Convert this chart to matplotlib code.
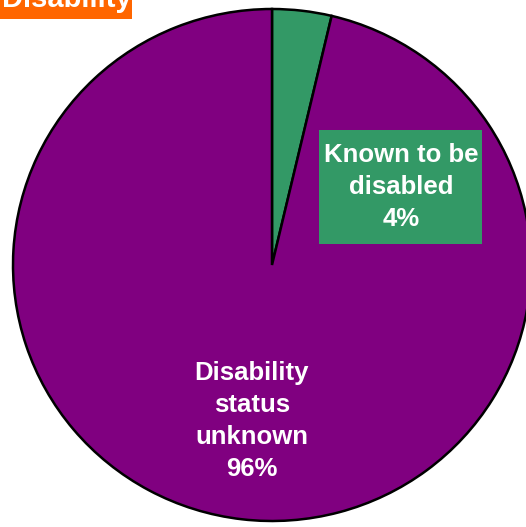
import matplotlib
matplotlib.use("Agg")
import matplotlib.pyplot as plt
from matplotlib.patches import Rectangle

# Disability status split (share of total, %)
categories = ["Known to be\ndisabled", "Disability\nstatus\nunknown"]
shares = [3.7, 96.3]
share_labels = ["4%", "96%"]
colors = ["#339966", "#800080"]
title = "Disability"

W, H = 526, 527
fig = plt.figure(figsize=(W / 100, H / 100), dpi=100)
plt.rcParams["font.family"] = ["Liberation Sans", "DejaVu Sans"]

# pie occupies x 13..531, y 9..521 (pixels from top-left)
ax = fig.add_axes([13 / W, (H - 521) / H, 518 / W, 512 / H])
wedges, _ = ax.pie(shares, colors=colors, startangle=90, counterclock=False,
                   wedgeprops=dict(edgecolor="black", linewidth=1.8))
ax.set_aspect("auto")
ax.set_xlim(-1, 1)
ax.set_ylim(-1, 1)
ax.axis("off")

txt = dict(color="white", fontweight="bold", fontsize=18.5, ha="center",
           va="center", linespacing=1.42)

# green label box
fig.patches.append(Rectangle((319 / W, 1 - 244 / H), 163 / W, 114 / H,
                             transform=fig.transFigure, facecolor=colors[0],
                             edgecolor="none", zorder=5))
fig.text(401 / W, 1 - 187 / H, f"{categories[0]}\n{share_labels[0]}",
         zorder=6, **txt)
fig.text(252 / W, 1 - 421 / H, f"{categories[1]}\n{share_labels[1]}",
         zorder=6, **txt)

# orange title tab, cut off at the top edge
fig.patches.append(Rectangle((0, 1 - 19 / H), 132 / W, 19 / H,
                             transform=fig.transFigure, facecolor="#FF6600",
                             edgecolor="none", zorder=5))
fig.text(2 / W, 1 - 7 / H, title, color="white", fontweight="bold",
         fontsize=21, ha="left", va="baseline", zorder=6)

fig.savefig("out.png", dpi=100)
